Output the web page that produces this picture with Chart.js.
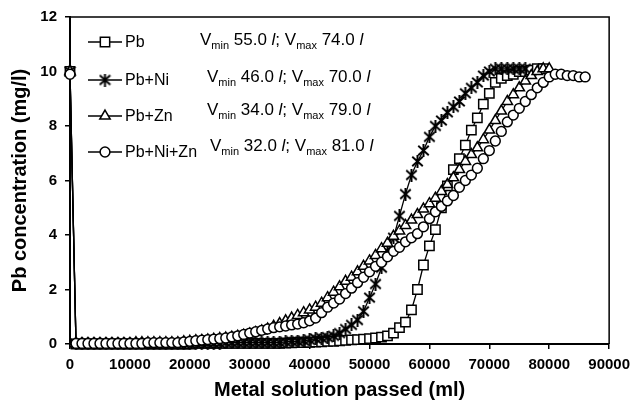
<!DOCTYPE html>
<html>
<head>
<meta charset="utf-8">
<title>Pb breakthrough curves</title>
<script src="https://cdn.jsdelivr.net/npm/chart.js@4.4.0/dist/chart.umd.min.js"></script>
<style>
  html, body { margin: 0; padding: 0; background: #fff; }
  #wrap { width: 637px; height: 407px; position: relative; }
</style>
</head>
<body>
<div id="wrap"><canvas id="chart"></canvas></div>
<script>
// Volume passed (ml), one sample every litre
const volumes = [
  0, 1000, 2000, 3000, 4000, 5000, 6000, 7000, 8000, 9000,
  10000, 11000, 12000, 13000, 14000, 15000, 16000, 17000, 18000, 19000,
  20000, 21000, 22000, 23000, 24000, 25000, 26000, 27000, 28000, 29000,
  30000, 31000, 32000, 33000, 34000, 35000, 36000, 37000, 38000, 39000,
  40000, 41000, 42000, 43000, 44000, 45000, 46000, 47000, 48000, 49000,
  50000, 51000, 52000, 53000, 54000, 55000, 56000, 57000, 58000, 59000,
  60000, 61000, 62000, 63000, 64000, 65000, 66000, 67000, 68000, 69000,
  70000, 71000, 72000, 73000, 74000, 75000, 76000, 77000, 78000, 79000,
  80000, 81000, 82000, 83000, 84000, 85000, 86000
];

// Pb concentration (mg/l) for each system
const pbOnly = [
  10, 0, 0, 0, 0, 0, 0, 0, 0, 0,
  0, 0, 0, 0, 0, 0, 0, 0, 0, 0,
  0, 0.02, 0.02, 0.02, 0.02, 0.02, 0.02, 0.02, 0.02, 0.02,
  0.02, 0.02, 0.02, 0.02, 0.02, 0.02, 0.03, 0.04, 0.05, 0.05,
  0.06, 0.07, 0.08, 0.1, 0.1, 0.12, 0.13, 0.15, 0.16, 0.18,
  0.2, 0.22, 0.25, 0.3, 0.4, 0.6, 0.8, 1.25, 2.0, 2.9,
  3.6, 4.2, 5.0, 5.8, 6.4, 6.8, 7.3, 7.85, 8.3, 8.8,
  9.2, 9.6, 9.75, 9.85, 9.9, 10.0, 10.0, 10.05, 10.1, 10.1
];
const pbNi = [
  10, 0.02, 0.02, 0.02, 0.02, 0.02, 0.02, 0.02, 0.02, 0.02,
  0.02, 0.02, 0.02, 0.02, 0.02, 0.02, 0.02, 0.02, 0.02, 0.02,
  0.02, 0.02, 0.02, 0.02, 0.02, 0.02, 0.05, 0.05, 0.05, 0.05,
  0.05, 0.05, 0.05, 0.05, 0.05, 0.05, 0.08, 0.1, 0.1, 0.12,
  0.15, 0.2, 0.22, 0.25, 0.3, 0.4, 0.55, 0.7, 0.88, 1.2,
  1.7, 2.2, 2.8, 3.4, 3.9, 4.7, 5.5, 6.2, 6.7, 7.1,
  7.6, 8.0, 8.2, 8.5, 8.7, 8.9, 9.2, 9.4, 9.6, 9.85,
  10.0, 10.1, 10.1, 10.1, 10.1, 10.1, 10.1
];
const pbZn = [
  10, 0.02, 0.02, 0.02, 0.02, 0.02, 0.02, 0.02, 0.02, 0.02,
  0.02, 0.05, 0.05, 0.05, 0.05, 0.05, 0.05, 0.05, 0.05, 0.08,
  0.1, 0.12, 0.13, 0.15, 0.17, 0.2, 0.22, 0.25, 0.28, 0.32,
  0.37, 0.42, 0.48, 0.55, 0.65, 0.75, 0.85, 0.95, 1.05, 1.15,
  1.25, 1.35, 1.5, 1.7, 1.9, 2.1, 2.3, 2.45, 2.65, 2.85,
  3.05, 3.25, 3.5, 3.7, 3.95, 4.15, 4.35, 4.55, 4.75, 4.95,
  5.15, 5.35, 5.6, 5.85, 6.1, 6.4, 6.7, 6.95, 7.2, 7.5,
  7.85, 8.2, 8.55, 8.9, 9.15, 9.4, 9.65, 9.85, 10.0, 10.1,
  10.1
];
const pbNiZn = [
  9.9, 0.02, 0.02, 0.02, 0.02, 0.02, 0.02, 0.02, 0.02, 0.02,
  0.02, 0.02, 0.02, 0.05, 0.05, 0.05, 0.05, 0.05, 0.05, 0.08,
  0.1, 0.12, 0.14, 0.16, 0.18, 0.2, 0.22, 0.26, 0.3, 0.35,
  0.4, 0.45, 0.5, 0.55, 0.6, 0.63, 0.66, 0.7, 0.73, 0.78,
  0.85, 0.95, 1.15, 1.35, 1.5, 1.65, 1.85, 2.05, 2.25, 2.45,
  2.65, 2.85, 3.0, 3.2, 3.4, 3.55, 3.75, 3.9, 4.05, 4.3,
  4.6, 4.85, 5.05, 5.25, 5.45, 5.75, 6.0, 6.2, 6.45, 6.8,
  7.1, 7.45, 7.8, 8.15, 8.4, 8.65, 8.9, 9.15, 9.4, 9.6,
  9.8, 9.9, 9.9, 9.85, 9.85, 9.8, 9.8
];

const seriesNames = ["Pb", "Pb+Ni", "Pb+Zn", "Pb+Ni+Zn"];
const vMin = ["55.0", "46.0", "34.0", "32.0"];
const vMax = ["74.0", "70.0", "79.0", "81.0"];
const xTicks = [0, 10000, 20000, 30000, 40000, 50000, 60000, 70000, 80000, 90000];
const yTicks = [0, 2, 4, 6, 8, 10, 12];

const FONT = "'Liberation Sans', Arial, sans-serif";

// asterisk marker (X with a vertical bar)
function makeAsterisk() {
  const c = document.createElement("canvas");
  c.width = 13;
  c.height = 13;
  const g = c.getContext("2d");
  g.strokeStyle = "#000";
  g.lineWidth = 2;
  g.lineCap = "square";
  g.beginPath();
  g.moveTo(2, 2.5); g.lineTo(11, 10.5);
  g.moveTo(11, 2.5); g.lineTo(2, 10.5);
  g.moveTo(6.5, 1); g.lineTo(6.5, 12);
  g.stroke();
  return c;
}
const asterisk = makeAsterisk();

const markers = [
  { pointStyle: "rect", radius: 6.6 },
  { pointStyle: asterisk, radius: 6 },
  { pointStyle: "triangle", radius: 6 },
  { pointStyle: "circle", radius: 4.9 },
];

function toPoints(ys) {
  return ys.map((y, i) => ({ x: volumes[i], y: y }));
}

const allSeries = [pbOnly, pbNi, pbZn, pbNiZn];

const datasets = allSeries.map((ys, i) => ({
  label: seriesNames[i],
  data: toPoints(ys),
  borderColor: "#000",
  borderWidth: 1.3,
  backgroundColor: "#fff",
  pointBackgroundColor: "#fff",
  pointBorderColor: "#000",
  pointBorderWidth: 1.5,
  pointStyle: markers[i].pointStyle,
  pointRadius: markers[i].radius,
  tension: 0,
  clip: false,
  order: 3 - i,
}));

// Draw a string made of parts (normal / subscript / italic)
function drawRich(ctx, x, y, parts, size) {
  ctx.textBaseline = "alphabetic";
  ctx.textAlign = "left";
  parts.forEach((p) => {
    let fs = p.sub ? Math.round(size * 0.66) : size;
    ctx.font = (p.italic ? "italic " : "") + fs + "px " + FONT;
    ctx.fillText(p.t, x, p.sub ? y + 4 : y);
    x += ctx.measureText(p.t).width;
  });
}

const framePlugin = {
  id: "frameAndLegend",
  afterDraw(chart) {
    const ctx = chart.ctx;
    const a = chart.chartArea;
    ctx.save();
    // box around the plot
    ctx.strokeStyle = "#000";
    ctx.lineWidth = 1.5;
    ctx.beginPath();
    ctx.moveTo(a.left, a.top);
    ctx.lineTo(a.right, a.top);
    ctx.lineTo(a.right, a.bottom);
    ctx.stroke();

    // legend
    const rowY = [42, 80, 116, 152];
    const vX = [200, 207, 207, 210];
    const vY = [45, 82, 115, 151];
    seriesNames.forEach((name, i) => {
      const y = rowY[i];
      ctx.strokeStyle = "#000";
      ctx.lineWidth = 1.3;
      ctx.beginPath();
      ctx.moveTo(88, y);
      ctx.lineTo(122, y);
      ctx.stroke();
      ctx.fillStyle = "#fff";
      ctx.lineWidth = 1.5;
      Chart.helpers.drawPoint(ctx, {
        pointStyle: markers[i].pointStyle,
        radius: markers[i].radius,
        rotation: 0,
        borderWidth: 1.5,
      }, 105, y);
      ctx.fillStyle = "#000";
      ctx.font = "16px " + FONT;
      ctx.textAlign = "left";
      ctx.textBaseline = "alphabetic";
      ctx.fillText(name, 125, y + 5);
      drawRich(ctx, vX[i], vY[i], [
        { t: "V" }, { t: "min", sub: true }, { t: " " + vMin[i] + " " },
        { t: "l", italic: true }, { t: "; V" }, { t: "max", sub: true },
        { t: " " + vMax[i] + " " }, { t: "l", italic: true },
      ], 17);
    });
    ctx.restore();
  },
};

new Chart(document.getElementById("chart"), {
  type: "line",
  data: { datasets: datasets },
  plugins: [framePlugin],
  options: {
    responsive: true,
    maintainAspectRatio: false,
    animation: false,
    layout: { padding: { top: 17, right: 22, left: 0, bottom: 0 } },
    plugins: {
      legend: { display: false },
      tooltip: { enabled: false },
    },
    scales: {
      x: {
        type: "linear",
        min: 0,
        max: 90000,
        afterBuildTicks: (s) => { s.ticks = xTicks.map((v) => ({ value: v })); },
        afterFit: (s) => { s.height = 63; },
        ticks: {
          color: "#000",
          padding: 7,
          maxRotation: 0,
          font: { family: FONT, size: 15, weight: "bold" },
          callback: (v) => String(v),
        },
        grid: { drawOnChartArea: false, drawTicks: true, tickLength: 5, color: "#000", lineWidth: 1.5 },
        border: { color: "#000", width: 2 },
        title: {
          display: true,
          text: "Metal solution passed (ml)",
          color: "#000",
          font: { family: FONT, size: 20, weight: "bold" },
          padding: { top: 0, bottom: 5 },
        },
      },
      y: {
        min: 0,
        max: 12,
        afterBuildTicks: (s) => { s.ticks = yTicks.map((v) => ({ value: v })); },
        afterFit: (s) => { s.width = 70; },
        ticks: {
          color: "#000",
          padding: 8,
          font: { family: FONT, size: 15, weight: "bold" },
        },
        grid: { drawOnChartArea: false, drawTicks: true, tickLength: 5, color: "#000", lineWidth: 1.5 },
        border: { color: "#000", width: 2 },
        title: {
          display: true,
          text: "Pb concentration (mg/l)",
          color: "#000",
          font: { family: FONT, size: 20, weight: "bold" },
          padding: { top: 8, bottom: 0 },
        },
      },
    },
  },
});
</script>
</body>
</html>
